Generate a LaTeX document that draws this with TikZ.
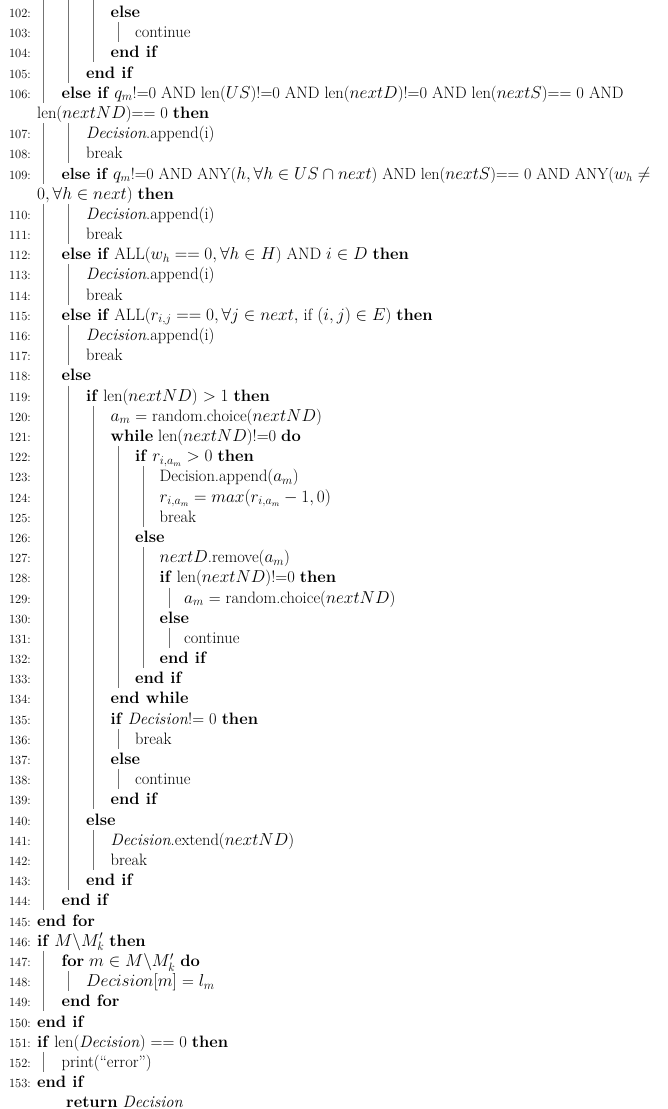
\documentclass[tikz,border=0pt]{standalone}
\usepackage{amssymb}
\begin{document}
\begin{tikzpicture}[x=1pt,y=-1pt,
  txt/.style={anchor=base west,inner sep=0pt,font=\fontsize{16.5}{20}\selectfont},
  num/.style={anchor=base east,inner sep=0pt,font=\fontsize{12.5}{15}\selectfont},
  bar/.style={draw=black!55,line width=0.9pt}]
\newcommand\R[4]{%
 \pgfmathsetmacro\yb{17.5+20.19*#1}%
 \pgfmathsetmacro\xl{37+24.5*#3}%
 \node[num] (n#1) at (31,\yb) {#2:};
 \node[txt] (t#1) at (\xl,\yb) {#4};}
\newcommand\C[2]{%
 \pgfmathsetmacro\yb{17.5+20.19*#1}%
 \node[txt] (t#1) at (37,\yb) {#2};}
\newcommand\B[3]{%
 \pgfmathsetmacro\bx{43+25.2*#1}%
 \pgfmathsetmacro\ya{2+20.19*#2}%
 \pgfmathsetmacro\yc{22+20.19*#3}%
 \draw[bar] (\bx,\ya) -- (\bx,\yc);}
\useasboundingbox (0,0) rectangle (668,1109);
\draw[bar] (43,0) -- (43,22+20.19*4);
\draw[bar] (68.2,0) -- (68.2,22+20.19*3);
\draw[bar] (93.4,0) -- (93.4,22+20.19*2);
\B{0}{6}{8}\B{0}{10}{44}
\B{1}{6}{7}\B{1}{10}{11}\B{1}{13}{14}\B{1}{16}{17}\B{1}{19}{43}
\B{2}{20}{39}\B{2}{41}{42}
\B{3}{1}{1}\B{3}{22}{33}\B{3}{36}{36}\B{3}{38}{38}
\B{4}{23}{25}\B{4}{27}{32}
\B{5}{29}{29}\B{5}{31}{31}
\B{0}{47}{49}\B{0}{52}{52}\B{1}{48}{48}
\R{0}{102}{3}{\textbf{else}}
\R{1}{103}{4}{continue}
\R{2}{104}{3}{\textbf{end if}}
\R{3}{105}{2}{\textbf{end if}}
\R{4}{106}{1}{\textbf{else if} $q_m$!=0 AND len($US$)!=0 AND len($nextD$)!=0 AND len($nextS$)== 0 AND}
\C{5}{len($nextND$)== 0 \textbf{then}}
\R{6}{107}{2}{\textit{Decision}.append(i)}
\R{7}{108}{2}{break}
\R{8}{109}{1}{\fontsize{16.1}{20}\selectfont\textbf{else if} $q_m$!=0 AND ANY($h, \forall h \in US \cap next$) AND len($nextS$)== 0 AND ANY($w_h \neq$}
\C{9}{$0, \forall h \in next$) \textbf{then}}
\R{10}{110}{2}{\textit{Decision}.append(i)}
\R{11}{111}{2}{break}
\R{12}{112}{1}{\textbf{else if} ALL($w_h == 0, \forall h \in H$) AND $i \in D$ \textbf{then}}
\R{13}{113}{2}{\textit{Decision}.append(i)}
\R{14}{114}{2}{break}
\R{15}{115}{1}{\textbf{else if} ALL($r_{i,j} == 0, \forall j \in next,$ if $(i,j) \in E$) \textbf{then}}
\R{16}{116}{2}{\textit{Decision}.append(i)}
\R{17}{117}{2}{break}
\R{18}{118}{1}{\textbf{else}}
\R{19}{119}{2}{\textbf{if} len($nextND$) $> 1$ \textbf{then}}
\R{20}{120}{3}{$a_m$ = random.choice($nextND$)}
\R{21}{121}{3}{\textbf{while} len($nextND$)!=0 \textbf{do}}
\R{22}{122}{4}{\textbf{if} $r_{i,a_m} > 0$ \textbf{then}}
\R{23}{123}{5}{Decision.append($a_m$)}
\R{24}{124}{5}{$r_{i,a_m} = max(r_{i,a_m}-1,0)$}
\R{25}{125}{5}{break}
\R{26}{126}{4}{\textbf{else}}
\R{27}{127}{5}{$nextD$.remove($a_m$)}
\R{28}{128}{5}{\textbf{if} len($nextND$)!=0 \textbf{then}}
\R{29}{129}{6}{$a_m$ = random.choice($nextND$)}
\R{30}{130}{5}{\textbf{else}}
\R{31}{131}{6}{continue}
\R{32}{132}{5}{\textbf{end if}}
\R{33}{133}{4}{\textbf{end if}}
\R{34}{134}{3}{\textbf{end while}}
\R{35}{135}{3}{\textbf{if} \textit{Decision}!= 0 \textbf{then}}
\R{36}{136}{4}{break}
\R{37}{137}{3}{\textbf{else}}
\R{38}{138}{4}{continue}
\R{39}{139}{3}{\textbf{end if}}
\R{40}{140}{2}{\textbf{else}}
\R{41}{141}{3}{\textit{Decision}.extend($nextND$)}
\R{42}{142}{3}{break}
\R{43}{143}{2}{\textbf{end if}}
\R{44}{144}{1}{\textbf{end if}}
\R{45}{145}{0}{\textbf{end for}}
\R{46}{146}{0}{\textbf{if} $M\backslash M'_k$ \textbf{then}}
\R{47}{147}{1}{\textbf{for} $m \in M\backslash M'_k$ \textbf{do}}
\R{48}{148}{2}{$Decision[m]$ = $l_m$}
\R{49}{149}{1}{\textbf{end for}}
\R{50}{150}{0}{\textbf{end if}}
\R{51}{151}{0}{\textbf{if} len(\textit{Decision}) == 0 \textbf{then}}
\R{52}{152}{1}{print(``error'')}
\R{53}{153}{0}{\textbf{end if}}
\node[txt] (ret) at (66,{17.5+20.19*54}) {\textbf{return} \textit{Decision}};
\end{tikzpicture}
\end{document}
